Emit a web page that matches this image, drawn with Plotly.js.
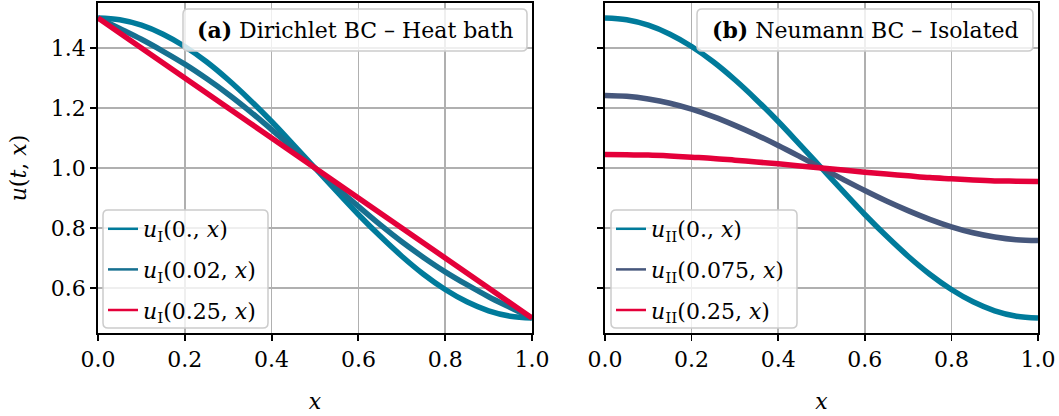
<!DOCTYPE html>
<html>
<head>
<meta charset="utf-8">
<script src="https://cdn.plot.ly/plotly-3.0.1.min.js"></script>
<style>html,body{margin:0;padding:0;background:#fff}#chart{width:1059px;height:416px}</style>
</head>
<body>
<div id="chart"></div>
<script>
// ---- data ----
const xGrid = [0.00,0.05,0.10,0.15,0.20,0.25,0.30,0.35,0.40,0.45,0.50,0.55,0.60,0.65,0.70,0.75,0.80,0.85,0.90,0.95,1.00];

// (a) Dirichlet BC - Heat bath
const uI_t0    = [1.500,1.494,1.476,1.446,1.405,1.354,1.294,1.227,1.155,1.078,1.000,0.922,0.845,0.773,0.706,0.646,0.595,0.554,0.524,0.506,0.500];
const uI_t002  = [1.500,1.465,1.429,1.389,1.346,1.298,1.246,1.189,1.128,1.065,1.000,0.935,0.872,0.811,0.754,0.702,0.654,0.611,0.571,0.535,0.500];
const uI_t025  = [1.500,1.450,1.400,1.350,1.300,1.250,1.200,1.150,1.100,1.050,1.000,0.950,0.900,0.850,0.800,0.750,0.700,0.650,0.600,0.550,0.500];

// (b) Neumann BC - Isolated
const uII_t0    = [1.500,1.494,1.476,1.446,1.405,1.354,1.294,1.227,1.155,1.078,1.000,0.922,0.845,0.773,0.706,0.646,0.595,0.554,0.524,0.506,0.500];
const uII_t0075 = [1.242,1.239,1.230,1.216,1.196,1.171,1.142,1.110,1.075,1.038,1.000,0.962,0.925,0.890,0.858,0.829,0.804,0.784,0.770,0.761,0.758];
const uII_t025  = [1.045,1.044,1.043,1.040,1.036,1.032,1.026,1.020,1.014,1.007,1.000,0.993,0.986,0.980,0.974,0.968,0.964,0.960,0.957,0.956,0.955];

const namesA = ['<i>u</i><sub>I</sub>(0., <i>x</i>)','<i>u</i><sub>I</sub>(0.02, <i>x</i>)','<i>u</i><sub>I</sub>(0.25, <i>x</i>)'];
const namesB = ['<i>u</i><sub>II</sub>(0., <i>x</i>)','<i>u</i><sub>II</sub>(0.075, <i>x</i>)','<i>u</i><sub>II</sub>(0.25, <i>x</i>)'];
const xTicks = [0,0.2,0.4,0.6,0.8,1.0];
const yTicks = [0.6,0.8,1.0,1.2,1.4];

// ---- styling ----
const FONT = 'DejaVu Serif';
const colA = ['#007b9b','#167090','#e4003a'];
const colB = ['#007b9b','#46577c','#e4003a'];
const W = 1059, H = 416;
const PX = p => p / W, PY = p => 1 - p / H;

function rrect(x0, y0, x1, y1, r) {
  const rx = r / W, ry = r / H;
  const a = PX(x0), b = PX(x1), t = PY(y0), u = PY(y1);
  return `M ${a+rx},${t} L ${b-rx},${t} Q ${b},${t} ${b},${t-ry} L ${b},${u+ry} Q ${b},${u} ${b-rx},${u} L ${a+rx},${u} Q ${a},${u} ${a},${u+ry} L ${a},${t-ry} Q ${a},${t} ${a+rx},${t} Z`;
}

const traces = [];
const seriesA = [uI_t0, uI_t002, uI_t025];
const seriesB = [uII_t0, uII_t0075, uII_t025];
seriesA.forEach((ys, i) => {
  traces.push({x: xGrid, y: ys, xaxis: 'x', yaxis: 'y', mode: 'lines', line: {color: colA[i], width: 5.5, shape: 'spline'}, showlegend: false, hoverinfo: 'skip'});
});
seriesB.forEach((ys, i) => {
  traces.push({x: xGrid, y: ys, xaxis: 'x2', yaxis: 'y2', mode: 'lines', line: {color: colB[i], width: 5.5, shape: 'spline'}, showlegend: false, hoverinfo: 'skip'});
});
// legend entries (thin legend lines)
namesA.forEach((n, i) => {
  traces.push({x: [null], y: [null], xaxis: 'x', yaxis: 'y', mode: 'lines', name: n, line: {color: colA[i], width: 2.5}, legend: 'legend', legendgroup: 'a' + i});
});
namesB.forEach((n, i) => {
  traces.push({x: [null], y: [null], xaxis: 'x2', yaxis: 'y2', mode: 'lines', name: n, line: {color: colB[i], width: 2.5}, legend: 'legend2', legendgroup: 'b' + i});
});

const axisCommon = {
  showline: true, linecolor: '#000', linewidth: 1.8, mirror: true,
  ticks: 'outside', ticklen: 6, tickwidth: 1.8, tickcolor: '#000',
  showgrid: true, gridcolor: '#b0b0b0', gridwidth: 1.5, zeroline: false,
  tickfont: {family: FONT, size: 22, color: '#000'}
};
const xax = Object.assign({}, axisCommon, {range: [0, 1], tickvals: xTicks, ticktext: xTicks.map(v => v.toFixed(1)),
  title: {text: '<i>x</i>', font: {family: FONT, size: 22, color: '#000'}, standoff: 22}});
const yax = Object.assign({}, axisCommon, {range: [0.45, 1.55], tickvals: yTicks, ticktext: yTicks.map(v => v.toFixed(1))});

const legendCommon = {bgcolor: 'rgba(0,0,0,0)', borderwidth: 0, font: {family: FONT, size: 22, color: '#000'},
  xanchor: 'left', yanchor: 'top', tracegroupgap: 9, itemwidth: 30};

const layout = {
  width: W, height: H,
  margin: {l: 0, r: 0, t: 0, b: 0},
  paper_bgcolor: '#fff', plot_bgcolor: '#fff',
  showlegend: true,
  xaxis: Object.assign({}, xax, {domain: [PX(98), PX(532)], anchor: 'y'}),
  xaxis2: Object.assign({}, xax, {domain: [PX(605), PX(1038)], anchor: 'y2'}),
  yaxis: Object.assign({}, yax, {domain: [PY(333), PY(3)], anchor: 'x',
    title: {text: '<i>u</i>(<i>t</i>, <i>x</i>)', font: {family: FONT, size: 22, color: '#000'}, standoff: 18}}),
  yaxis2: Object.assign({}, yax, {domain: [PY(333), PY(3)], anchor: 'x2', matches: 'y', showticklabels: false}),
  legend: Object.assign({}, legendCommon, {x: PX(103), y: PY(208)}),
  legend2: Object.assign({}, legendCommon, {x: PX(611), y: PY(208)}),
  shapes: [
    {type: 'path', xref: 'paper', yref: 'paper', layer: 'above', path: rrect(103, 210, 268, 328, 5), fillcolor: 'rgba(255,255,255,0.8)', line: {color: '#cccccc', width: 1.5}},
    {type: 'path', xref: 'paper', yref: 'paper', layer: 'above', path: rrect(611, 210, 797, 328, 5), fillcolor: 'rgba(255,255,255,0.8)', line: {color: '#cccccc', width: 1.5}},
    {type: 'path', xref: 'paper', yref: 'paper', layer: 'above', path: rrect(183, 9, 527, 51, 5), fillcolor: 'rgba(255,255,255,0.8)', line: {color: '#cccccc', width: 1.5}},
    {type: 'path', xref: 'paper', yref: 'paper', layer: 'above', path: rrect(697, 9, 1033, 51, 5), fillcolor: 'rgba(255,255,255,0.8)', line: {color: '#cccccc', width: 1.5}}
  ],
  annotations: [
    {xref: 'paper', yref: 'paper', x: PX(355), y: PY(30), xanchor: 'center', yanchor: 'middle', showarrow: false,
     text: '<b>(a)</b> Dirichlet BC – Heat bath', font: {family: FONT, size: 22, color: '#000'}},
    {xref: 'paper', yref: 'paper', x: PX(865), y: PY(30), xanchor: 'center', yanchor: 'middle', showarrow: false,
     text: '<b>(b)</b> Neumann BC – Isolated', font: {family: FONT, size: 22, color: '#000'}}
  ]
};

Plotly.newPlot('chart', traces, layout, {staticPlot: true, displayModeBar: false});
</script>
</body>
</html>
